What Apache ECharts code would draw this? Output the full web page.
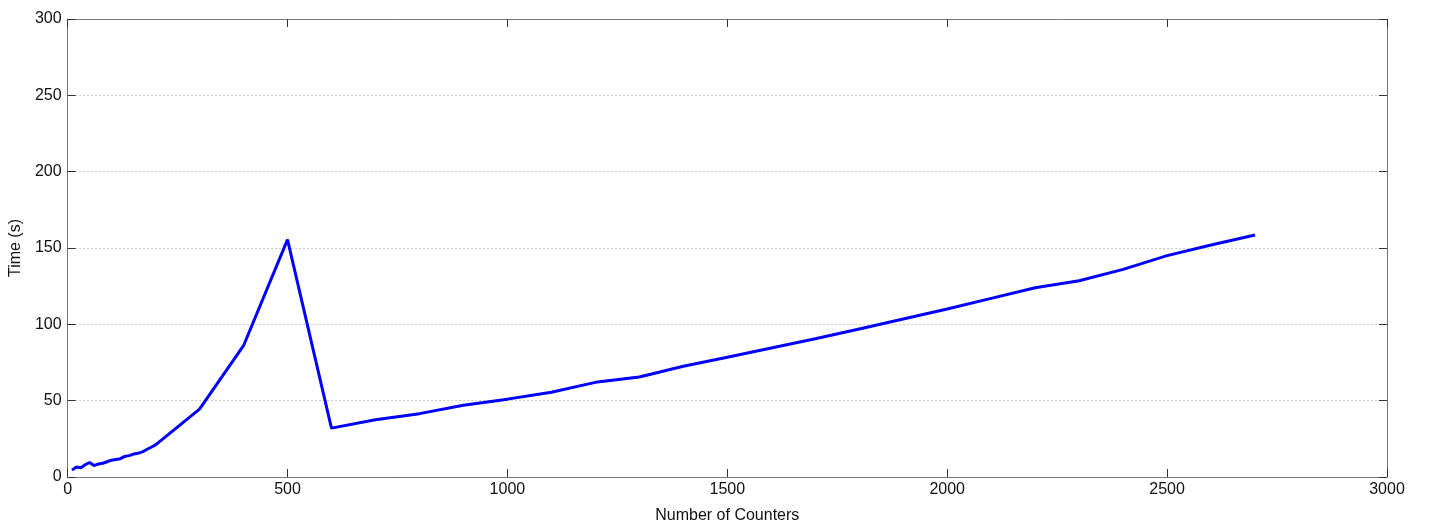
<!DOCTYPE html>
<html>
<head>
<meta charset="utf-8">
<script src="https://cdn.jsdelivr.net/npm/echarts@6/dist/echarts.min.js"></script>
<style>html,body{margin:0;padding:0;background:#fff;overflow:hidden;}#c{width:1429px;height:529px;}</style>
</head>
<body>
<div id="c"></div>
<script>
const counters = [10,20,30,40,50,60,70,80,90,100,110,120,130,140,150,160,170,180,190,200,300,400,500,600,700,800,900,1000,1100,1200,1300,1400,1500,1600,1700,1800,1900,2000,2100,2200,2300,2400,2500,2600,2700];
const times = [4.5,6.5,6,8,9.5,7.5,8.5,9,10,11,11.5,12,13.5,14,15,15.5,16.5,18,19.5,21,44.5,86,155.5,32,37.5,41.5,47,51,55.5,62,65.5,72.5,78.5,84.5,90.5,97,103.5,110,117,124,128.5,136,145,152,158.5];
const xTicks = [0,500,1000,1500,2000,2500,3000];
const yTicks = [0,50,100,150,200,250,300];

const font = 'Liberation Sans, Arial, sans-serif';
const chart = echarts.init(document.getElementById('c'));
const axLine = {show:true, onZero:false, lineStyle:{color:'#777', width:1}};
const tick = {show:true, inside:true, length:8, lineStyle:{color:'#333', width:1}};
chart.setOption({
  animation:false,
  grid:{left:65, width:1322, top:19, height:462, containLabel:false},
  xAxis:[{
    type:'value', min:xTicks[0], max:xTicks[xTicks.length-1], interval:xTicks[1]-xTicks[0], position:'bottom',
    axisLine:axLine, axisTick:tick,
    axisLabel:{color:'#111', fontFamily:font, fontSize:16, margin:5, formatter:v=>String(v)},
    splitLine:{show:false},
    name:'Number of Counters', nameLocation:'middle', nameGap:31,
    nameTextStyle:{color:'#111', fontFamily:font, fontSize:16}
  },{
    type:'value', min:xTicks[0], max:xTicks[xTicks.length-1], interval:xTicks[1]-xTicks[0], position:'top',
    axisLine:axLine, axisTick:tick, axisLabel:{show:false}, splitLine:{show:false}
  }],
  yAxis:[{
    type:'value', min:yTicks[0], max:yTicks[yTicks.length-1], interval:yTicks[1]-yTicks[0], position:'left',
    axisLine:axLine, axisTick:tick,
    axisLabel:{color:'#111', fontFamily:font, fontSize:16, margin:6, formatter:v=>String(v)},
    splitLine:{show:true, lineStyle:{color:'#999', type:[1,3], width:1}},
    name:'Time (s)', nameLocation:'middle', nameGap:36, nameRotate:90,
    nameTextStyle:{color:'#111', fontFamily:font, fontSize:16}
  },{
    type:'value', min:yTicks[0], max:yTicks[yTicks.length-1], interval:yTicks[1]-yTicks[0], position:'right',
    axisLine:axLine, axisTick:tick, axisLabel:{show:false}, splitLine:{show:false}
  }],
  series:[{
    type:'line', data:counters.map((c,i)=>[c,times[i]]),
    showSymbol:false, symbol:'none',
    lineStyle:{color:'#0000ff', width:3},
    itemStyle:{color:'#0000ff'}
  }]
});
</script>
</body>
</html>
